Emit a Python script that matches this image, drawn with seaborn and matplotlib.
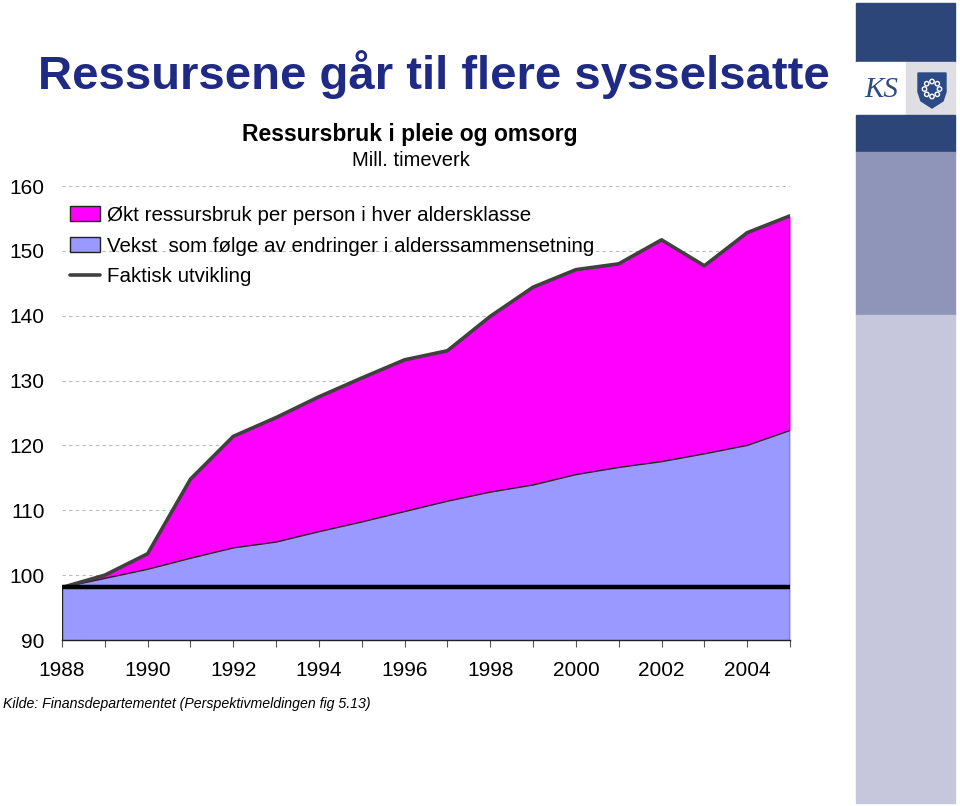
import matplotlib
matplotlib.use("Agg")
import matplotlib.pyplot as plt
import seaborn as sns
import pandas as pd
from matplotlib.patches import Rectangle, Polygon, Circle, Patch
from matplotlib.lines import Line2D
import numpy as np

# ---- data ----
years = list(range(1988, 2006))
faktisk = [98.1, 100.0, 103.3, 114.8, 121.4, 124.3, 127.5, 130.4, 133.2, 134.6,
           139.9, 144.4, 147.1, 148.0, 151.7, 147.7, 152.8, 155.4]
demografi = [98.1, 99.5, 100.9, 102.6, 104.2, 105.1, 106.7, 108.2, 109.8, 111.4,
             112.8, 113.9, 115.5, 116.6, 117.5, 118.7, 120.0, 122.3]
niva_1988 = 98.1
yticks = [90, 100, 110, 120, 130, 140, 150, 160]
xticklabels = [str(y) if y % 2 == 0 else "" for y in years]
labels = ["Økt ressursbruk per person i hver aldersklasse",
          "Vekst  som følge av endringer i alderssammensetning",
          "Faktisk utvikling"]

df = pd.DataFrame({"år": years, "faktisk": faktisk, "demografi": demografi,
                   "basis": [niva_1988] * len(years)})

sns.set_theme(style="white")
plt.rcParams["font.family"] = ["Liberation Sans", "DejaVu Sans"]

fig = plt.figure(figsize=(9.6, 8.06), dpi=100)
W, H = 960, 806
ax = fig.add_axes([62 / W, 1 - 640 / H, (790 - 62) / W, (640 - 186) / H])

MAGENTA = "#FF00FF"
LBLUE = "#9999FF"

ax.fill_between(df["år"], 90, df["demografi"], color=LBLUE, lw=0, zorder=2)
ax.fill_between(df["år"], df["demografi"], df["faktisk"], color=MAGENTA, lw=0, zorder=2)
sns.lineplot(data=df, x="år", y="demografi", color="#222222", lw=1.0, ax=ax, zorder=3)
ax.plot([years[0], years[0]], [90, niva_1988], color="#222222", lw=1.0, zorder=3)
ax.plot([years[-1], years[-1]], [90, faktisk[-1]], color="#222222", lw=1.0, zorder=3)
sns.lineplot(data=df, x="år", y="faktisk", color="#404040", lw=2.6, ax=ax, zorder=4)
sns.lineplot(data=df, x="år", y="basis", color="black", lw=3.2, ax=ax, zorder=5)

ax.set_xlim(years[0], years[-1])
ax.set_ylim(90, 160)
ax.set_yticks(yticks)
ax.set_yticklabels([str(v) for v in yticks], fontsize=15, color="black")
ax.set_xticks(years)
ax.set_xticklabels(xticklabels, fontsize=15, color="black")
ax.set_xlabel("")
ax.set_ylabel("")
ax.tick_params(axis="y", length=0, pad=12.5, labelcolor="black")
ax.tick_params(axis="x", length=5, width=0.8, direction="out", color="#555555", pad=10,
               bottom=True, labelcolor="black")
for s in ["top", "right", "left"]:
    ax.spines[s].set_visible(False)
ax.spines["bottom"].set_color("#222222")
ax.spines["bottom"].set_linewidth(1.0)
ax.set_axisbelow(True)
for v in yticks[1:]:
    ax.axhline(v, color="#BBBBBB", lw=0.8, ls=(0, (3, 3)), zorder=1)

handles = [Patch(facecolor=MAGENTA, edgecolor="#222222", lw=1.0),
           Patch(facecolor=LBLUE, edgecolor="#222222", lw=1.0),
           Line2D([], [], color="#404040", lw=2.6)]
leg = fig.legend(handles, labels, loc="upper left", bbox_to_anchor=(70 / W, 1 - 206 / H),
                 frameon=False, fontsize=14.8, handlelength=1.45, handleheight=0.75,
                 handletextpad=0.35, labelspacing=0.56, borderpad=0, borderaxespad=0)
for t in leg.get_texts():
    t.set_color("black")

# ---- texts ----
fig.text(38 / W, 1 - 75 / H, "Ressursene går til flere sysselsatte", fontsize=34,
         fontweight="bold", color="#1F2A85", ha="left", va="center")
fig.text(410 / W, 1 - 135 / H, "Ressursbruk i pleie og omsorg", fontsize=16.5,
         fontweight="bold", color="black", ha="center", va="center")
fig.text(411 / W, 1 - 160 / H, "Mill. timeverk", fontsize=14.5, color="black",
         ha="center", va="center")
fig.text(3 / W, 1 - 704 / H, "Kilde: Finansdepartementet (Perspektivmeldingen fig 5.13)",
         fontsize=10.2, style="italic", color="black", ha="left", va="center")

# ---- right decorative panel ----
deco = fig.add_axes([0, 0, 1, 1], zorder=-5)
deco.set_xlim(0, W)
deco.set_ylim(H, 0)
deco.axis("off")
deco.patch.set_alpha(0)
DARK = "#2C4679"
deco.add_patch(Rectangle((856, 3), 99, 59, color=DARK))
deco.add_patch(Rectangle((856, 62), 50, 53, color="white"))
deco.add_patch(Rectangle((906, 62), 49, 53, color="#DFDFE3"))
deco.add_patch(Rectangle((856, 115), 99, 37, color=DARK))
deco.add_patch(Rectangle((856, 152), 99, 163, color="#8F95B8"))
deco.add_patch(Rectangle((856, 315), 99, 488, color="#C6C7DC"))
deco.text(881, 90, "KS", fontsize=21, style="italic", color="#2C4A86",
          ha="center", va="center", family=["Liberation Serif", "DejaVu Serif"])
shield = [(918, 73), (946, 73), (946, 92), (943, 101), (932, 108), (921, 101), (918, 92)]
deco.add_patch(Polygon(shield, closed=True, color="#2C4A86"))
for a in np.linspace(0, 2 * np.pi, 9)[:-1]:
    deco.add_patch(Circle((932 + 7.5 * np.cos(a), 89 + 7.5 * np.sin(a)), 2.2,
                          facecolor="none", edgecolor="white", lw=1.0))

fig.savefig("out.png", dpi=100)
